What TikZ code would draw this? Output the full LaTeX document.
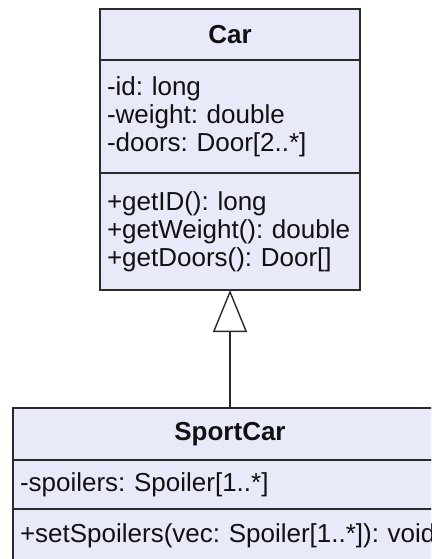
\documentclass[tikz,border=0pt]{standalone}
\usepackage{fontspec}
\setmainfont{Liberation Sans}
\usepackage{tikz}
\usepackage{xcolor}
\usetikzlibrary{arrows.meta, positioning}
\definecolor{umlfill}{HTML}{E9EAF9}
\definecolor{umlline}{HTML}{2A2A2A}
\definecolor{ink}{HTML}{111111}
\tikzset{
  font=\fontsize{26}{28}\selectfont\frenchspacing,
  %
  part/.style={
    draw=umlline, line width=1.6pt, fill=umlfill, outer sep=0pt,
    inner xsep=7pt, inner ysep=0pt, text=ink,
  },
  cardbox/.style={part, minimum width=260pt, text width=246pt},
  sportbox/.style={part, minimum width=434pt, text width=420pt},
  title/.style={align=center, font=\fontsize{26}{28}\selectfont\bfseries},
  members/.style={align=left},
  %
  inherit/.style={draw=umlline, line width=1.4pt,
                  -{Triangle[open, length=42pt, width=34pt]}},
}
\begin{document}
\begin{tikzpicture}[x=1pt, y=-1pt]

  \useasboundingbox (0,0) rectangle (431,559);
  \clip (0,0) rectangle (431,559);

  % superclass
  \node[cardbox, title, minimum height=51pt, anchor=north west]
    (carhead) at (100,9) {Car};
  \node[cardbox, members, minimum height=113pt, below=0pt of carhead]
    (carattr) {-id:~long\\-weight:~double\\-doors:~Door[2..*]};
  \node[cardbox, members, minimum height=117pt, below=0pt of carattr]
    (carops) {+getID():~long\\+getWeight():~double\\+getDoors():~Door[]};

  % subclass (runs past the right edge)
  \node[sportbox, title, minimum height=52pt, anchor=north west]
    (sporthead) at (13,408) {SportCar};
  \node[sportbox, members, minimum height=49pt, below=0pt of sporthead]
    (sportattr) {-spoilers:~Spoiler[1..*]};
  \node[sportbox, members, minimum height=53pt, below=0pt of sportattr]
    (sportops) {+setSpoilers(vec:~Spoiler[1..*]):~void};

  \draw[inherit] (sporthead.north) -- (carops.south);

\end{tikzpicture}
\end{document}
